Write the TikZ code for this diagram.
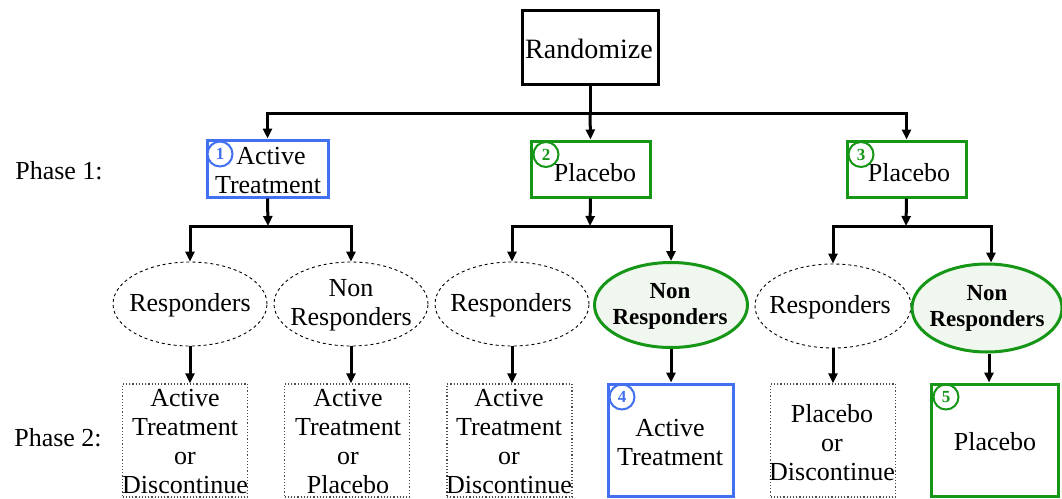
\documentclass[tikz,border=0pt]{standalone}
\usepackage{fontspec}
\setmainfont{Liberation Serif}
\usetikzlibrary{shapes.geometric,arrows.meta}
\definecolor{myblue}{RGB}{66,112,240}
\definecolor{mygreen}{RGB}{22,150,22}
\definecolor{lightgreen}{RGB}{240,247,238}
\tikzset{
  txt/.style={align=center,inner sep=0pt,font=\rmfamily\fontsize{26}{29}\selectfont},
  bigtxt/.style={inner sep=0pt,font=\rmfamily\fontsize{28}{32}\selectfont},
  boldtxt/.style={align=center,inner sep=0pt,font=\rmfamily\fontsize{23}{26}\selectfont\bfseries},
  conn/.style={line width=3pt,draw=black},
  arr/.style={conn,-{Triangle[width=9pt,length=10pt]}},
  solidbox/.style={rectangle,line width=3pt,inner sep=0pt},
  dotbox/.style={rectangle,draw=black!70,dotted,line width=1.2pt,inner sep=0pt,minimum width=125pt,minimum height=113pt},
  dashell/.style={ellipse,draw=black,dashed,line width=0.9pt,inner sep=0pt,minimum width=154pt,minimum height=84pt},
  boldell/.style={ellipse,draw=mygreen,fill=lightgreen,line width=3pt,inner sep=0pt,minimum width=153pt,minimum height=85pt},
  numcirc/.style={circle,line width=2pt,inner sep=0pt,minimum size=25pt,font=\rmfamily\fontsize{17}{17}\selectfont\bfseries}
}
\begin{document}
\begin{tikzpicture}[x=1pt,y=-1pt]
\useasboundingbox (0,0) rectangle (1062,498);
% top
\node[solidbox,draw=black,minimum width=136pt,minimum height=74pt] (rand) at (590,47) {};
\node[bigtxt] (randt) at (589,49) {Randomize};
% phase labels
\node[txt] (ph1) at (59,171) {Phase 1:};
\node[txt] (ph2) at (58,438) {Phase 2:};
% phase 1 boxes
\node[solidbox,draw=myblue,minimum width=121pt,minimum height=57pt] (b1) at (267.5,168.5) {};
\node[txt] (b1t) at (268,171) {\hspace*{6pt}Active\\Treatment};
\node[numcirc,draw=myblue,text=myblue,fill=white] (c1) at (220,154) {1};
\node[solidbox,draw=mygreen,minimum width=119pt,minimum height=56pt] (b2) at (590.5,169) {};
\node[txt] (b2t) at (595,173) {Placebo};
\node[numcirc,draw=mygreen,text=mygreen] (c2) at (546,154.5) {2};
\node[solidbox,draw=mygreen,minimum width=119pt,minimum height=56pt] (b3) at (906.5,169) {};
\node[txt] (b3t) at (909,173) {Placebo};
\node[numcirc,draw=mygreen,text=mygreen] (c3) at (861,154.5) {3};
% connectors from randomize
\coordinate (j0) at (590,113);
\draw[conn] (rand.south) -- (j0);
\draw[arr] (j0) -| (b1.north);
\draw[arr] (j0) -- (b2.north);
\draw[arr] (j0) -| (b3.north);
% ellipses
\node[dashell] (e1) at (190,304) {};
\node[txt] (e1t) at (190,305) {Responders};
\node[dashell] (e2) at (351,304) {};
\node[txt] (e2t) at (351,305) {Non\\Responders};
\node[dashell] (e3) at (512,304) {};
\node[txt] (e3t) at (511,305) {Responders};
\node[boldell] (e4) at (671,305) {};
\node[boldtxt] (e4t) at (670,306) {Non\\Responders};
\node[dashell,minimum width=156pt] (e5) at (833,306) {};
\node[txt] (e5t) at (830,307) {Responders};
\node[boldell,minimum width=150pt,minimum height=88pt] (e6) at (987,308) {};
\node[boldtxt] (e6t) at (987,308) {Non\\Responders};
% connectors phase 1 -> ellipses
\coordinate (j1) at (268,226);
\coordinate (j2) at (590,226);
\coordinate (j3) at (906,226);
\draw[arr] (b1.south) -- (j1);
\draw[arr] (b2.south) -- (j2);
\draw[arr] (b3.south) -- (j3);
\draw[arr] (j1) -| (e1.north);
\draw[arr] (j1) -| (e2.north);
\draw[arr] (j2) -| (e3.north);
\draw[arr] (j2) -| (e4.north);
\draw[arr] (j3) -| (e5.north);
\draw[arr] (j3) -| ([xshift=4pt]e6.north);
% phase 2 boxes
\node[dotbox] (p1) at (185,440.5) {};
\node[txt] (p1t) at (185,442) {Active\\Treatment\\or\\Discontinue};
\node[dotbox] (p2) at (347,440.5) {};
\node[txt] (p2t) at (348,442) {Active\\Treatment\\or\\Placebo};
\node[dotbox] (p3) at (509.5,440.5) {};
\node[txt] (p3t) at (509,442) {Active\\Treatment\\or\\Discontinue};
\node[solidbox,draw=myblue,minimum width=125pt,minimum height=112pt] (p4) at (670.5,440) {};
\node[txt] (p4t) at (670,443) {Active\\Treatment};
\node[numcirc,draw=myblue,text=myblue] (c4) at (622,397) {4};
\node[dotbox] (p5) at (833,440.5) {};
\node[txt] (p5t) at (832,442.5) {Placebo\\or\\Discontinue};
\node[solidbox,draw=mygreen,minimum width=127pt,minimum height=112pt] (p6) at (994.5,440) {};
\node[txt] (p6t) at (995,442) {Placebo};
\node[numcirc,draw=mygreen,text=mygreen] (c5) at (946,397) {5};
% connectors ellipses -> phase 2
\draw[arr] (e1.south) -- (e1.south |- p1.north);
\draw[arr] (e2.south) -- (e2.south |- p2.north);
\draw[arr] (e3.south) -- (e3.south |- p3.north);
\draw[arr] (e4.south) -- (e4.south |- p4.north);
\draw[arr] (e5.south) -- (e5.south |- p5.north);
\draw[arr] ([xshift=2pt]e6.south) -- ([xshift=2pt]e6.south |- p6.north);
\end{tikzpicture}
\end{document}
